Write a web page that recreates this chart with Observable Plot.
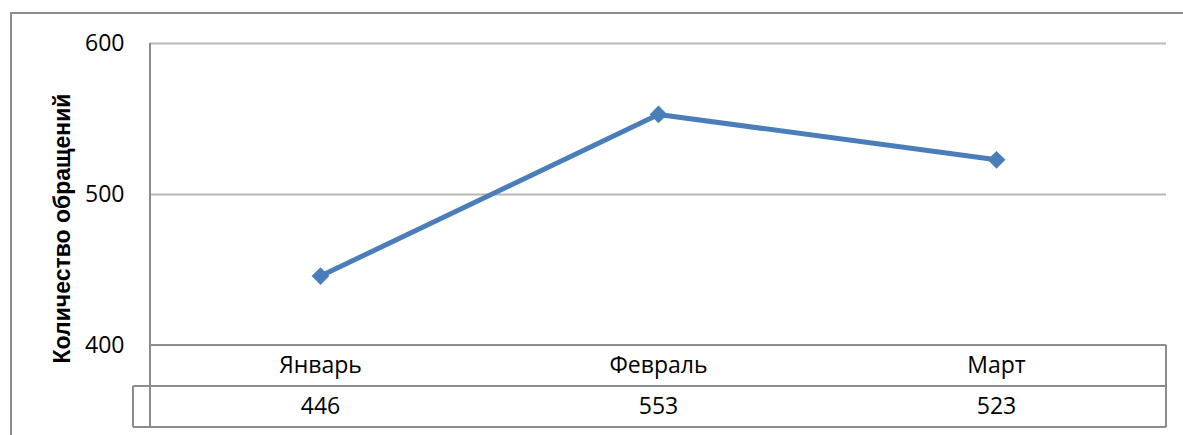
<!DOCTYPE html>
<html>
<head>
<meta charset="utf-8">
<script src="https://cdn.jsdelivr.net/npm/d3@7"></script>
<script src="https://cdn.jsdelivr.net/npm/@observablehq/plot@0.6"></script>
<style>
  html, body { margin: 0; padding: 0; background: #fff; overflow: hidden; }
  #wrap { position: relative; width: 1183px; height: 435px; }
  #border { position: absolute; left: 10px; top: 12px; width: 2000px; height: 2000px;
            border-left: 2px solid #8c8c8c; border-top: 2px solid #8c8c8c; box-sizing: border-box; }
  #chart { position: absolute; left: 0; top: 0; }
</style>
</head>
<body>
<div id="wrap"><div id="border"></div><div id="chart"></div></div>
<script>
const categories = ["Январь", "Февраль", "Март"];
const values = [446, 553, 523];
const yTicks = [400, 500, 600];
const yLabel = "Количество обращений";

const data = categories.map((c, i) => ({month: c, value: values[i]}));

const lineColor = "#4a7ebb";
const tableColor = "#8c8c8c";
const gridColor = "#b7b7b7";
const font = "'Open Sans', sans-serif";
const rowH = 41;

function tableMark(index, scales, vals, dimensions) {
  const d = dimensions;
  const left = d.marginLeft, right = d.width - d.marginRight;
  const y0 = scales.y(yTicks[0]);
  const g = d3.create("svg:g").attr("stroke", tableColor).attr("stroke-width", 2).attr("fill", "none");
  const boxLeft = left - 17;
  g.append("line").attr("x1", left).attr("x2", left).attr("y1", d.marginTop).attr("y2", y0 + 2 * rowH);
  g.append("line").attr("x1", right).attr("x2", right).attr("y1", y0).attr("y2", y0 + 2 * rowH);
  g.append("line").attr("x1", left).attr("x2", right).attr("y1", y0).attr("y2", y0);
  g.append("line").attr("x1", boxLeft).attr("x2", right).attr("y1", y0 + rowH).attr("y2", y0 + rowH);
  g.append("line").attr("x1", boxLeft).attr("x2", right).attr("y1", y0 + 2 * rowH).attr("y2", y0 + 2 * rowH);
  g.append("line").attr("x1", boxLeft).attr("x2", boxLeft).attr("y1", y0 + rowH).attr("y2", y0 + 2 * rowH);
  return g.node();
}

const chart = Plot.plot({
  width: 1183,
  height: 435,
  marginLeft: 150,
  marginRight: 17,
  marginTop: 43,
  marginBottom: 90,
  style: {fontFamily: font, background: "transparent", overflow: "visible"},
  x: {type: "band", domain: categories, padding: 0, axis: null},
  y: {domain: [yTicks[0], yTicks[yTicks.length - 1]], axis: null},
  marks: [
    Plot.gridY(yTicks.slice(1), {stroke: gridColor, strokeOpacity: 1, strokeWidth: 2}),
    Plot.axisY(yTicks, {tickSize: 0, tickPadding: 26, fontSize: 23, fill: "#000", label: null}),
    tableMark,
    Plot.text([yLabel], {frameAnchor: "left", text: d => d, rotate: -90, dx: -88, dy: 34,
      textAnchor: "middle", lineAnchor: "middle",
      fontFamily: "'Liberation Sans', Arial, sans-serif", fontWeight: "bold", fontSize: 23, fill: "#000"}),
    Plot.line(data, {x: "month", y: "value", stroke: lineColor, strokeWidth: 5}),
    Plot.dot(data, {x: "month", y: "value", symbol: "diamond2", r: 8, fill: lineColor, stroke: "none"}),
    Plot.text(data, {x: "month", text: "month", frameAnchor: "bottom", lineAnchor: "middle", dy: rowH / 2, fontSize: 23, fill: "#000"}),
    Plot.text(data, {x: "month", text: d => String(d.value), frameAnchor: "bottom", lineAnchor: "middle", dy: rowH * 1.5, fontSize: 23, fill: "#000"})
  ]
});
document.getElementById("chart").appendChild(chart);
</script>
</body>
</html>
